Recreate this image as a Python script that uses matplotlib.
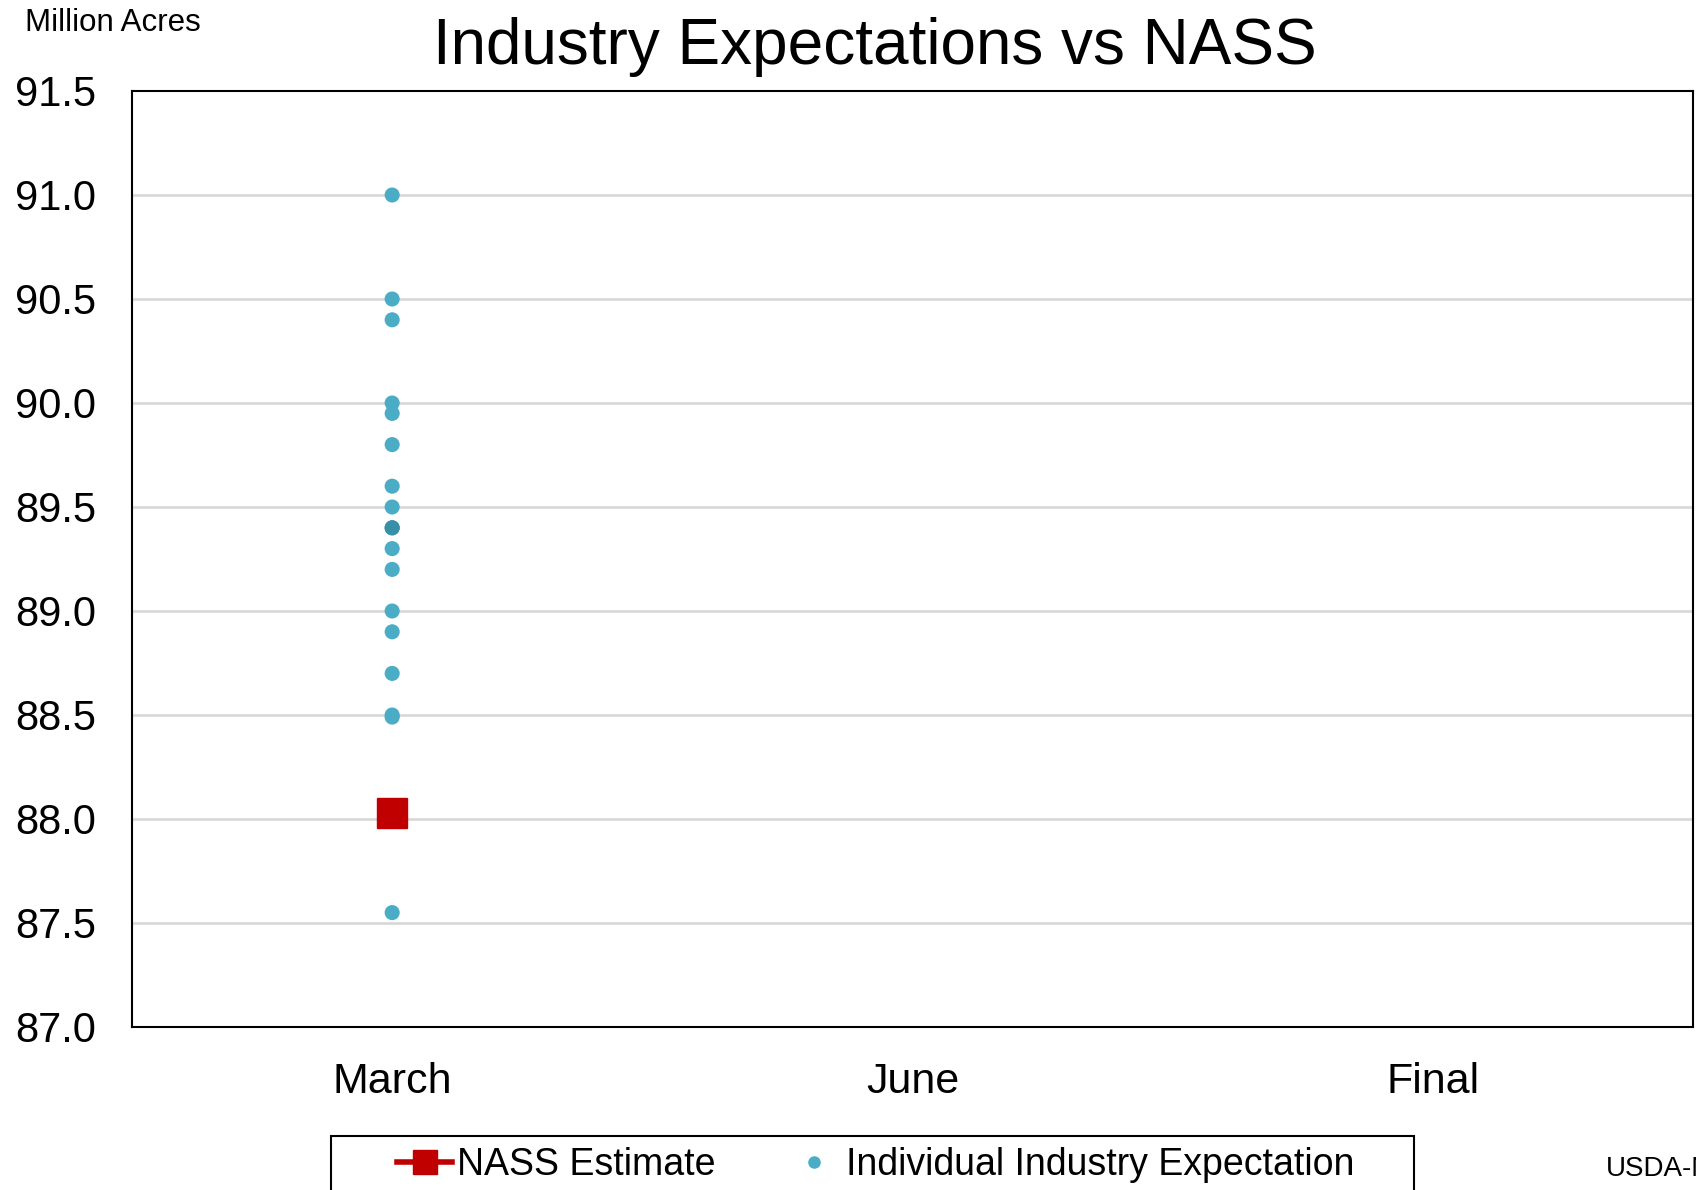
"""
Industry expectations vs NASS estimate, planted acres
"""

import matplotlib.pyplot as plt
from matplotlib.lines import Line2D
from matplotlib.patches import Rectangle
from collections import Counter

plt.rcParams['font.family'] = ['Liberation Sans', 'DejaVu Sans']

# Data
categories = ['March', 'June', 'Final']
industry_march = [91.0, 90.5, 90.4, 90.0, 89.95, 89.8, 89.6, 89.5, 89.4, 89.4,
                  89.3, 89.2, 89.0, 88.9, 88.7, 88.5, 88.49, 87.55]
nass_estimate = [88.03]
y_ticks = [87.0, 87.5, 88.0, 88.5, 89.0, 89.5, 90.0, 90.5, 91.0, 91.5]

CYAN = '#4bacc6'
CYAN_DARK = '#3790a8'
RED = '#c00000'

fig = plt.figure(figsize=(16.96, 11.9), dpi=100)
ax = fig.add_axes([132 / 1696, 163 / 1190, 1561 / 1696, 936 / 1190])

# Gridlines
for y in y_ticks[1:-1]:
    ax.axhline(y, color='#d9d9d9', linewidth=2, zorder=1)

# Industry points (repeated values drawn darker)
counts = Counter(industry_march)
colors = [CYAN_DARK if counts[v] > 1 else CYAN for v in industry_march]
ax.scatter([0] * len(industry_march), industry_march, s=118, c=colors,
           linewidths=0, zorder=3)

# NASS estimate
ax.plot([0] * len(nass_estimate), nass_estimate, marker='s', markersize=22,
        color=RED, linestyle='none', zorder=4)

ax.set_xlim(-0.5, 2.5)
ax.set_ylim(87.0, 91.5)
ax.set_yticks(y_ticks)
ax.set_yticklabels([f'{v:.1f}' for v in y_ticks])
ax.set_xticks(range(len(categories)))
ax.set_xticklabels(categories)
ax.tick_params(axis='y', length=0, pad=26, labelsize=30)
ax.tick_params(axis='x', length=0, pad=25, labelsize=31)
for s in ax.spines.values():
    s.set_linewidth(1.5)
    s.set_color('black')

fig.text(875 / 1696, 1 - 47 / 1190, 'Industry Expectations vs NASS',
         ha='center', va='center', fontsize=46)
fig.text(25 / 1696, 1 - 23 / 1190, 'Million Acres', ha='left', va='center',
         fontsize=22.5)
fig.text(1606 / 1696, 1 - 1169 / 1190, 'USDA-NASS', ha='left', va='center',
         fontsize=20)

# Legend box (runs off the bottom of the figure)
fig.patches.append(Rectangle((331 / 1696, -0.05), 1083 / 1696, 0.05 + 54 / 1190,
                             transform=fig.transFigure, fill=False,
                             edgecolor='black', linewidth=1.5))
handles = [
    Line2D([], [], color=RED, linewidth=4, marker='s', markersize=17),
    Line2D([], [], color=CYAN, linestyle='none', marker='o', markersize=8),
]
fig.legend(handles, ['NASS Estimate', 'Individual Industry Expectation'],
           ncol=2, loc='center left', bbox_to_anchor=(397 / 1696, 1 - 1165 / 1190),
           frameon=False, fontsize=27, handlelength=1.47, handletextpad=0.12,
           columnspacing=1.9, borderaxespad=0, borderpad=0)

fig.savefig('out.png', dpi=100)
